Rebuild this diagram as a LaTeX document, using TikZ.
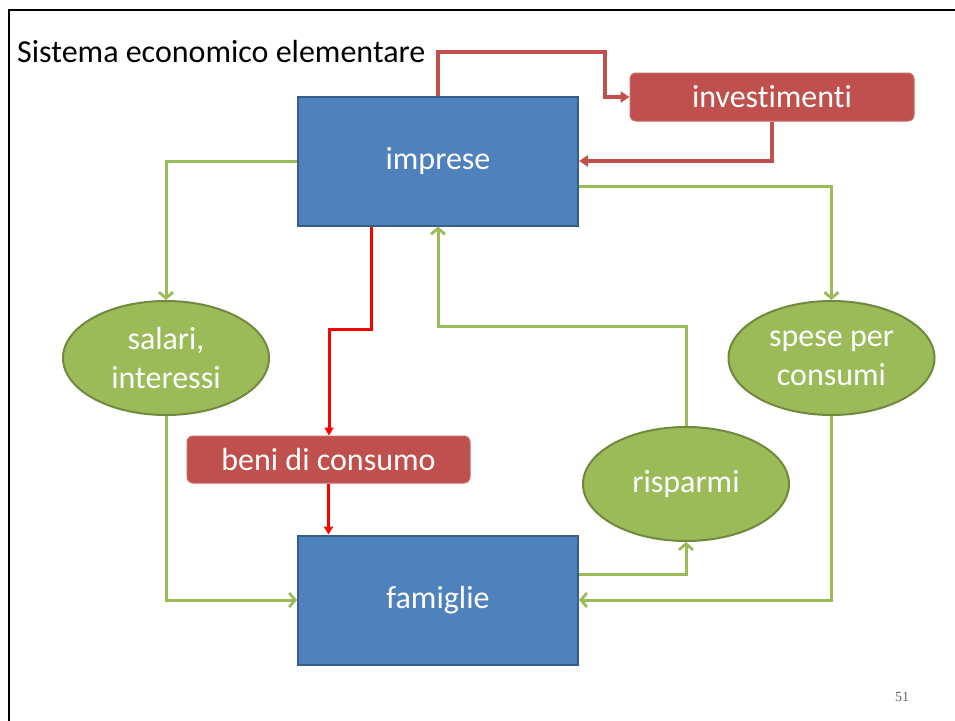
\documentclass[tikz,border=0pt]{standalone}
\usepackage{fontspec}
\setmainfont{Carlito}[Ligatures=NoCommon]
\newfontfamily\numfont{Liberation Serif}
\usetikzlibrary{shapes.geometric,arrows.meta,calc}
\definecolor{boxblue}{HTML}{4F81BD}
\definecolor{boxblueline}{HTML}{385D8A}
\definecolor{boxred}{HTML}{C0504D}
\definecolor{ellgreen}{HTML}{9BBB59}
\definecolor{ellgreenline}{HTML}{71893F}
\tikzset{
  bluebox/.style={draw=boxblueline, line width=2pt, fill=boxblue, minimum width=280pt, minimum height=129pt, inner sep=0pt, text=white, font=\fontsize{32}{39}\selectfont},
  redbox/.style={draw=boxred!85!white, line width=1pt, fill=boxred, rounded corners=6pt, inner sep=0pt, text=white, font=\fontsize{32}{39}\selectfont},
  greenell/.style={ellipse, draw=ellgreenline, line width=2pt, fill=ellgreen, minimum width=206pt, minimum height=114pt, inner sep=0pt, text=white, align=center, font=\fontsize{32}{39}\selectfont},
  garrow/.style={draw=ellgreen, line width=3pt, -{Straight Barb[length=6pt,width=14pt,line width=2.8pt]}},
  rarrow/.style={draw=boxred, line width=3.4pt, -{Triangle[length=9pt,width=11pt]}},
  rrarrow/.style={draw=red, line width=3pt, -{Triangle[length=8pt,width=9pt]}},
}
\begin{document}
\begin{tikzpicture}[x=1pt,y=-1pt]
\useasboundingbox (0,0) rectangle (955,720);
\fill[white] (0,0) rectangle (955,720);
\draw[line width=2.5pt, black] (9,722) -- (9,10) -- (957,10);
\node[anchor=base west, font=\fontsize{32}{39}\selectfont, inner sep=0pt] (title) at (17,62) {Sistema economico elementare};
\node[anchor=base, font=\numfont\fontsize{14}{16}\selectfont, text=black!60, inner sep=0pt] (num) at (902,701) {51};

\node[bluebox] (imp) at (438,161) {imprese};
\node[bluebox] (fam) at (438,600) {famiglie};
\node[redbox, minimum width=284pt, minimum height=48pt] (inv) at (772,97) {investimenti};
\node[redbox, minimum width=283pt, minimum height=47pt] (beni) at (328.5,459.5) {beni di consumo};
\node[greenell] (sal) at (166,358) {salari,\\interessi};
\node[greenell] (sp) at (831.5,358) {spese per\\consumi};
\node[greenell] (ris) at (686,484) {risparmi};

\coordinate (t1) at (438,52);
\coordinate (t2) at (605,52);
\draw[rarrow] (imp.north) -- (t1) -- (t2) |- (inv.west);
\draw[rarrow] (inv.south) |- (imp.east);

\draw[garrow] (imp.west) -| (sal.north);
\draw[garrow] (sal.south) |- (fam.west);
\draw[garrow] ($(imp.east)+(0,25)$) -| (sp.north);
\draw[garrow] (sp.south) |- (fam.east);
\draw[garrow] ($(fam.east)+(0,-26)$) -| (ris.south);
\coordinate (k1) at (438,326);
\draw[garrow] (ris.north) |- (k1) -- (imp.south);

\coordinate (r0) at ($(imp.south)+(-67,0)$);
\coordinate (k2) at (329,329);
\draw[rrarrow] (r0) |- (k2) -- (k2 |- beni.north);
\draw[rrarrow] (beni.south) -- (beni.south |- fam.north);
\end{tikzpicture}
\end{document}
